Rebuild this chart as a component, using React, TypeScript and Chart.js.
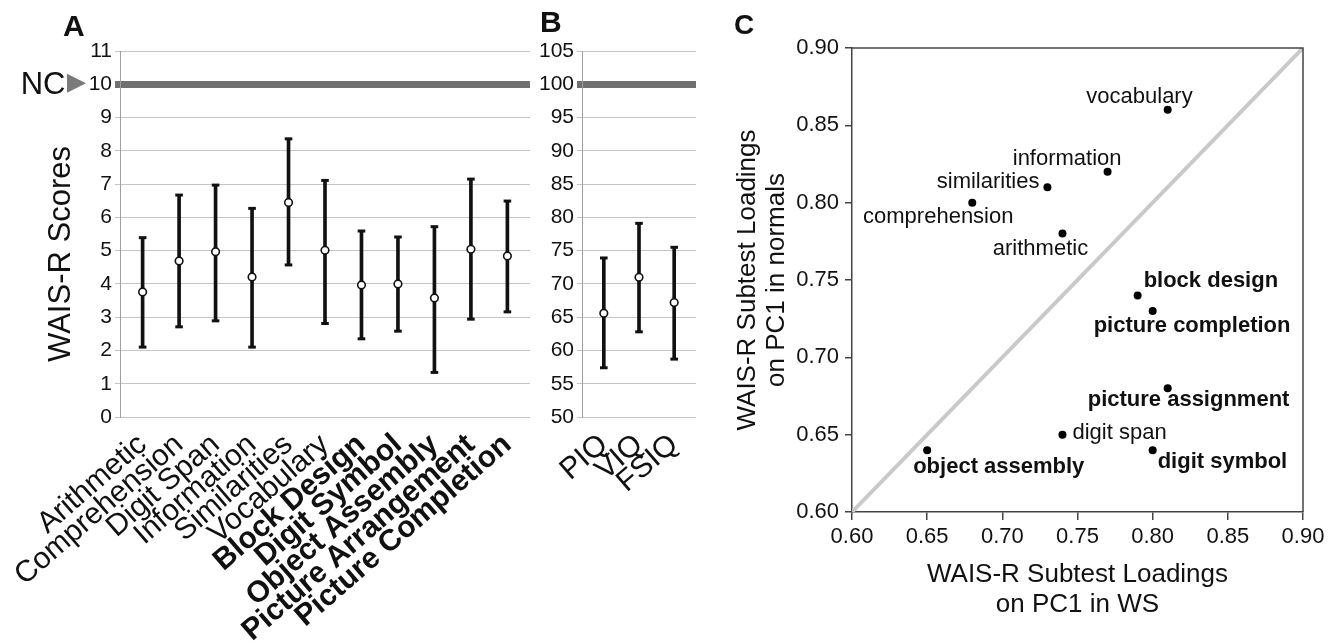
import React, { useEffect, useRef } from 'react';
import { Chart, registerables } from 'chart.js';

Chart.register(...registerables);

const FONT = "'Liberation Sans', Arial, Helvetica, sans-serif";

// ---------- Panel A: WAIS-R subtest scores ----------
const subtestNames = [
  'Arithmetic', 'Comprehension', 'Digit Span', 'Information', 'Similarities', 'Vocabulary',
  'Block Design', 'Digit Symbol', 'Object Assembly', 'Picture Arrangement', 'Picture Completion',
];
const boldSubtests = ['Block Design', 'Digit Symbol', 'Object Assembly', 'Picture Arrangement', 'Picture Completion'];
const subtestMean = [3.76, 4.69, 4.97, 4.21, 6.45, 5.01, 3.97, 4.0, 3.58, 5.04, 4.84];
const subtestLow = [2.1, 2.71, 2.89, 2.1, 4.57, 2.81, 2.35, 2.58, 1.34, 2.94, 3.16];
const subtestHigh = [5.39, 6.67, 6.97, 6.27, 8.36, 7.11, 5.59, 5.41, 5.72, 7.15, 6.49];
const scoreAxis = [0, 11, 1]; // min, max, step
const ncScore = 10;

// ---------- Panel B: IQ ----------
const iqNames = ['PIQ', 'VIQ', 'FSIQ'];
const iqMean = [65.6, 71.0, 67.2];
const iqLow = [57.4, 62.8, 58.7];
const iqHigh = [73.9, 79.1, 75.5];
const iqAxis = [50, 105, 5];
const ncIQ = 100;

// ---------- Panel C: PC1 loadings ----------
const loadingNames = [
  'vocabulary', 'information', 'similarities', 'comprehension', 'arithmetic', 'block design',
  'picture completion', 'picture assignment', 'digit span', 'object assembly', 'digit symbol',
];
const boldLoadings = ['block design', 'picture completion', 'picture assignment', 'object assembly', 'digit symbol'];
const loadingWS = [0.81, 0.77, 0.73, 0.68, 0.74, 0.79, 0.8, 0.81, 0.74, 0.65, 0.8];
const loadingNormals = [0.86, 0.82, 0.81, 0.8, 0.78, 0.74, 0.73, 0.68, 0.65, 0.64, 0.64];
const loadingAxis = [0.6, 0.9, 0.05];
const identityLine = [0.6, 0.9];

// label placement (dx, dy from point, text alignment) - layout only
const labelPlacement: Record<string, [number, number, CanvasTextAlign]> = {
  'vocabulary': [25, -7, 'right'],
  'information': [14, -7, 'right'],
  'similarities': [-8, 1, 'right'],
  'comprehension': [-34, 20, 'center'],
  'arithmetic': [-22, 21, 'center'],
  'block design': [6, -8, 'left'],
  'picture completion': [-59, 21, 'left'],
  'picture assignment': [-80, 18, 'left'],
  'digit span': [10, 4, 'left'],
  'object assembly': [-14, 23, 'left'],
  'digit symbol': [5, 18, 'left'],
};

const categoryPad = 0.62;

function errorBarConfig(
  labels: string[], mean: number[], low: number[], high: number[], axis: number[], refValue: number,
  yAxisWidth: number, xAxisHeight: number, padding: any, isBold: (i: number) => boolean, plugins: any[],
): any {
  const pts = (vals: number[]) => vals.map((y, i) => ({ x: i, y }));
  return {
    type: 'bar',
    data: {
      datasets: [
        {
          type: 'line', data: pts(mean), showLine: false, pointStyle: 'circle', pointRadius: 3.8,
          pointBackgroundColor: '#fff', pointBorderColor: '#111', pointBorderWidth: 1.6, order: 0,
        },
        {
          type: 'line', data: pts(high), showLine: false, pointStyle: 'line', pointRadius: 3.8,
          pointBorderColor: '#111', pointBorderWidth: 3, order: 1,
        },
        {
          type: 'line', data: pts(low), showLine: false, pointStyle: 'line', pointRadius: 3.8,
          pointBorderColor: '#111', pointBorderWidth: 3, order: 1,
        },
        {
          type: 'bar', data: labels.map((_, i) => ({ x: i, y: [low[i], high[i]] })), backgroundColor: '#111',
          barThickness: 3, order: 2,
        },
      ],
    },
    options: {
      responsive: false,
      animation: false,
      events: [],
      layout: { padding },
      plugins: { legend: { display: false }, tooltip: { enabled: false } },
      scales: {
        x: {
          type: 'linear',
          offset: false,
          min: -categoryPad,
          max: labels.length - 1 + categoryPad,
          afterBuildTicks: (s: any) => { s.ticks = labels.map((_, i) => ({ value: i })); },
          grid: { display: false, offset: false },
          border: { display: false },
          ticks: {
            autoSkip: false, minRotation: 41, maxRotation: 41, color: '#111', padding: 2,
            callback: (v: any) => labels[Math.round(Number(v))],
            font: (c: any) => ({ family: FONT, size: 30, weight: isBold(c.index) ? 'bold' : 'normal' }),
          },
          afterFit: (s: any) => { s.height = xAxisHeight; },
        },
        y: {
          min: axis[0], max: axis[1],
          ticks: { stepSize: axis[2], color: '#111', padding: 3, font: { family: FONT, size: 21 } },
          grid: {
            color: (c: any) => (c.tick && c.tick.value === refValue ? '#707070' : '#c4c4c4'),
            lineWidth: (c: any) => (c.tick && c.tick.value === refValue ? 7 : 1),
            tickLength: 5,
          },
          border: { color: '#a0a0a0', width: 1 },
          afterFit: (s: any) => { s.width = yAxisWidth; },
        },
      },
    },
    plugins,
  };
}

const panelAExtras = {
  id: 'panelAExtras',
  afterDraw(chart: any) {
    const { ctx } = chart;
    const y = chart.scales.y.getPixelForValue(ncScore);
    ctx.save();
    ctx.fillStyle = '#111';
    ctx.font = `31px ${FONT}`;
    ctx.textAlign = 'right';
    ctx.textBaseline = 'middle';
    ctx.fillText('NC', 65.5, y + 1);
    ctx.fillStyle = '#7a7a7a';
    ctx.beginPath();
    ctx.moveTo(67, y - 10.5);
    ctx.lineTo(86, y - 1);
    ctx.lineTo(67, y + 8.5);
    ctx.closePath();
    ctx.fill();
    ctx.translate(61, 254);
    ctx.rotate(-Math.PI / 2);
    ctx.fillStyle = '#111';
    ctx.textAlign = 'center';
    ctx.fillText('WAIS-R Scores', 0, 0);
    ctx.restore();
  },
};

const panelCExtras = {
  id: 'panelCExtras',
  afterDatasetsDraw(chart: any) {
    const { ctx, chartArea } = chart;
    ctx.save();
    ctx.strokeStyle = '#444';
    ctx.lineWidth = 1.5;
    ctx.beginPath();
    ctx.moveTo(chartArea.left, chartArea.top);
    ctx.lineTo(chartArea.right, chartArea.top);
    ctx.lineTo(chartArea.right, chartArea.bottom);
    ctx.stroke();
    const meta = chart.getDatasetMeta(1);
    ctx.fillStyle = '#111';
    ctx.textBaseline = 'alphabetic';
    meta.data.forEach((pt: any, i: number) => {
      const name = loadingNames[i];
      const [dx, dy, align] = labelPlacement[name];
      ctx.font = `${boldLoadings.includes(name) ? 'bold ' : ''}22px ${FONT}`;
      ctx.textAlign = align;
      ctx.fillText(name, pt.x + dx, pt.y + dy);
    });
    ctx.restore();
  },
};

function configA() {
  return errorBarConfig(
    subtestNames, subtestMean, subtestLow, subtestHigh, scoreAxis, ncScore,
    120, 227, { top: 51, right: 10, left: 0, bottom: 0 },
    (i) => boldSubtests.includes(subtestNames[i]), [panelAExtras],
  );
}

function configB() {
  return errorBarConfig(
    iqNames, iqMean, iqLow, iqHigh, iqAxis, ncIQ,
    47, 227, { top: 51, right: 7, left: 0, bottom: 0 },
    () => false, [],
  );
}

function configC(): any {
  return {
    type: 'scatter',
    data: {
      datasets: [
        {
          type: 'line', data: identityLine.map((v) => ({ x: v, y: v })), borderColor: '#c9c9c9',
          borderWidth: 4, pointRadius: 0, order: 1,
        },
        {
          data: loadingWS.map((x, i) => ({ x, y: loadingNormals[i] })), pointRadius: 4,
          pointBackgroundColor: '#000', pointBorderColor: '#000', pointBorderWidth: 0, order: 0,
        },
      ],
    },
    options: {
      responsive: false,
      animation: false,
      events: [],
      layout: { padding: { top: 48, right: 34, left: 0, bottom: 0 } },
      plugins: { legend: { display: false }, tooltip: { enabled: false } },
      scales: {
        x: {
          type: 'linear', min: loadingAxis[0], max: loadingAxis[1],
          ticks: {
            stepSize: loadingAxis[2], callback: (v: any) => Number(v).toFixed(2), color: '#111',
            padding: 4, font: { family: FONT, size: 22 },
          },
          grid: { drawOnChartArea: false, color: '#444', tickLength: 8, lineWidth: 1.5 },
          border: { color: '#444', width: 1.5 },
          title: {
            display: true, text: ['WAIS-R Subtest Loadings', 'on PC1 in WS'], color: '#111',
            font: { family: FONT, size: 26, lineHeight: 1.154 }, padding: { top: 0, bottom: 24 },
          },
          afterFit: (s: any) => { s.height = 132; },
        },
        y: {
          type: 'linear', min: loadingAxis[0], max: loadingAxis[1],
          ticks: {
            stepSize: loadingAxis[2], callback: (v: any) => Number(v).toFixed(2), color: '#111',
            padding: 6, font: { family: FONT, size: 22 },
          },
          grid: { drawOnChartArea: false, color: '#444', tickLength: 7, lineWidth: 1.5 },
          border: { color: '#444', width: 1.5 },
          title: {
            display: true, text: ['WAIS-R Subtest Loadings', 'on PC1 in normals'], color: '#111',
            font: { family: FONT, size: 26, lineHeight: 1.12 }, padding: { top: 33, bottom: 0 },
          },
          afterFit: (s: any) => { s.width = 152; },
        },
      },
    },
    plugins: [panelCExtras],
  };
}

function ChartCanvas(props: { make: () => any; left: number; width: number; height: number }) {
  const ref = useRef<HTMLCanvasElement>(null);
  useEffect(() => {
    const chart = new Chart(ref.current as HTMLCanvasElement, props.make());
    return () => chart.destroy();
  }, []);
  return (
    <canvas
      ref={ref}
      width={props.width}
      height={props.height}
      style={{ position: 'absolute', left: props.left, top: 0, width: props.width, height: props.height }}
    />
  );
}

const letterStyle: React.CSSProperties = {
  position: 'absolute', fontFamily: FONT, fontWeight: 'bold', color: '#111', lineHeight: 1,
};

export default function App() {
  return (
    <div style={{ position: 'absolute', left: 0, top: 0, width: 1337, height: 644, background: '#fff', overflow: 'hidden' }}>
      <ChartCanvas make={configA} left={0} width={540} height={644} />
      <ChartCanvas make={configB} left={535} width={168} height={644} />
      <ChartCanvas make={configC} left={700} width={637} height={644} />
      <div style={{ ...letterStyle, left: 63, top: 11, fontSize: 30 }}>A</div>
      <div style={{ ...letterStyle, left: 540, top: 7, fontSize: 30 }}>B</div>
      <div style={{ ...letterStyle, left: 734, top: 11, fontSize: 28 }}>C</div>
    </div>
  );
}
